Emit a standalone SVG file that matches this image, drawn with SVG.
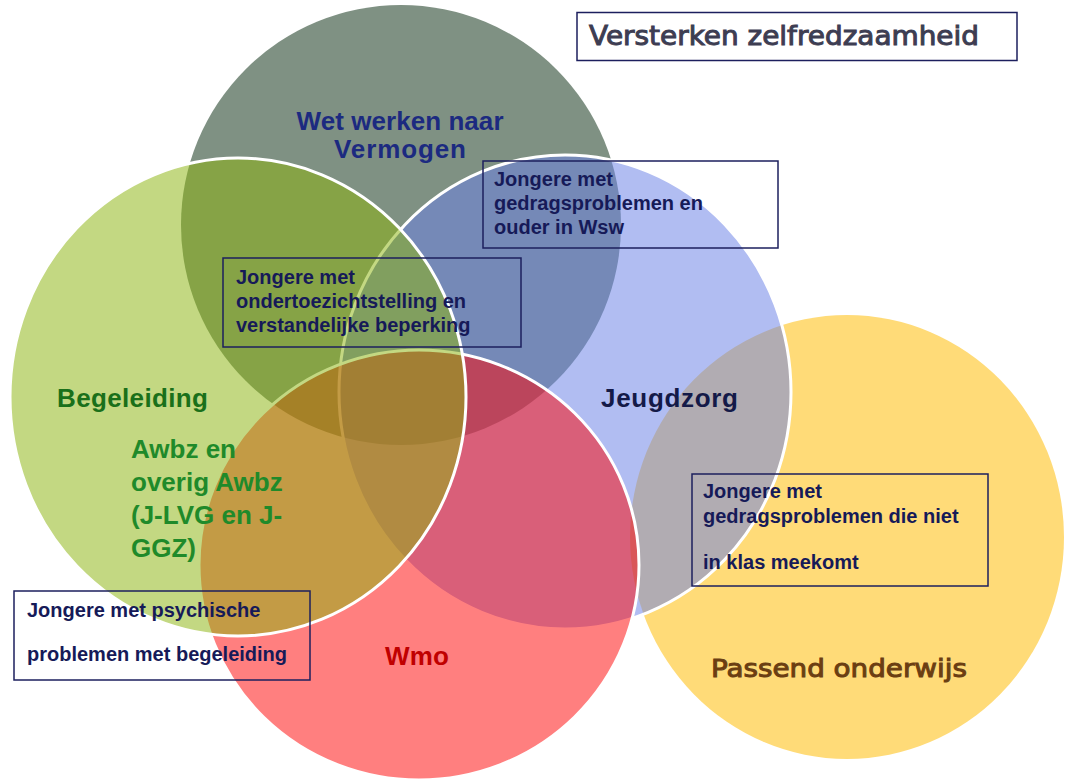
<svg xmlns="http://www.w3.org/2000/svg" width="1066" height="780" viewBox="0 0 1066 780">
<style>
.box{fill:none;stroke:#1c1f5e;stroke-width:1.5}
.bt{font-family:"Liberation Sans",Arial,sans-serif;font-weight:bold;font-size:20px;fill:#161a58}
.lbl{font-family:"Liberation Sans",Arial,sans-serif;font-weight:bold;font-size:26px}
.ver{font-family:"DejaVu Sans",Verdana,sans-serif;font-weight:normal;stroke-width:1}
.edge{stroke:#ffffff;stroke-width:3}
</style>
<rect width="1066" height="780" fill="#ffffff"/>
<g id="circle-wwnv"><circle cx="401" cy="225" r="220" fill="#7f9183"/></g>
<g id="circle-passend"><ellipse cx="847" cy="537" rx="217" ry="222" fill="#ffdb78"/></g>
<g id="circle-jeugdzorg"><ellipse class="edge" cx="565" cy="392" rx="226" ry="237" fill="rgb(108,130,230)" fill-opacity="0.53"/></g>
<g id="circle-wmo"><ellipse class="edge" cx="419" cy="565" rx="220" ry="215" fill="rgb(255,4,4)" fill-opacity="0.51"/></g>
<g id="circle-begeleiding"><ellipse class="edge" cx="238" cy="397" rx="228" ry="239" fill="rgb(140,181,15)" fill-opacity="0.52"/></g>
<g id="connectors"></g>
<g id="title">
<rect x="577" y="12.5" width="440" height="48" fill="#ffffff" stroke="#1c1f5e" stroke-width="1.5"/>
<text class="ver" x="589" y="45" font-size="26" fill="#3d3d52" stroke="#3d3d52" textLength="390" lengthAdjust="spacingAndGlyphs">Versterken zelfredzaamheid</text>
</g>
<g id="label-wwnv">
<text class="lbl" x="400" y="130" font-size="24" text-anchor="middle" fill="#1c2a80" textLength="207">Wet werken naar</text>
<text class="lbl" x="400" y="158" font-size="24" text-anchor="middle" fill="#1c2a80" textLength="132">Vermogen</text>
</g>
<g id="label-begeleiding"><text class="lbl" x="57" y="407" fill="#1a701a" textLength="151">Begeleiding</text></g>
<g id="label-awbz">
<text class="lbl" x="131" y="458" fill="#1f8a2a">Awbz en</text>
<text class="lbl" x="131" y="491" fill="#1f8a2a">overig Awbz</text>
<text class="lbl" x="131" y="524" fill="#1f8a2a">(J-LVG en J-</text>
<text class="lbl" x="131" y="557" fill="#1f8a2a">GGZ)</text>
</g>
<g id="label-jeugdzorg"><text class="lbl" x="601" y="407" fill="#141a48" textLength="137">Jeugdzorg</text></g>
<g id="label-wmo"><text class="lbl" x="385" y="665" fill="#c00000" textLength="64">Wmo</text></g>
<g id="label-passend"><text class="ver" x="711" y="677" font-size="25" fill="#6b3e12" stroke="#6b3e12" textLength="256" lengthAdjust="spacingAndGlyphs">Passend onderwijs</text></g>
<g id="box-wsw">
<rect class="box" x="483" y="161" width="295" height="87"/>
<text class="bt" x="494" y="186">Jongere met</text>
<text class="bt" x="494" y="210">gedragsproblemen en</text>
<text class="bt" x="494" y="234">ouder in Wsw</text>
</g>
<g id="box-ots">
<rect class="box" x="223" y="258" width="298" height="89"/>
<text class="bt" x="236" y="284">Jongere met</text>
<text class="bt" x="236" y="308">ondertoezichtstelling en</text>
<text class="bt" x="236" y="332">verstandelijke beperking</text>
</g>
<g id="box-klas">
<rect class="box" x="692" y="474" width="296" height="112"/>
<text class="bt" x="703" y="498">Jongere met</text>
<text class="bt" x="703" y="523">gedragsproblemen die niet</text>
<text class="bt" x="703" y="569">in klas meekomt</text>
</g>
<g id="box-psych">
<rect class="box" x="14" y="591" width="296" height="89"/>
<text class="bt" x="27" y="617">Jongere met psychische</text>
<text class="bt" x="27" y="661">problemen met begeleiding</text>
</g>
</svg>
